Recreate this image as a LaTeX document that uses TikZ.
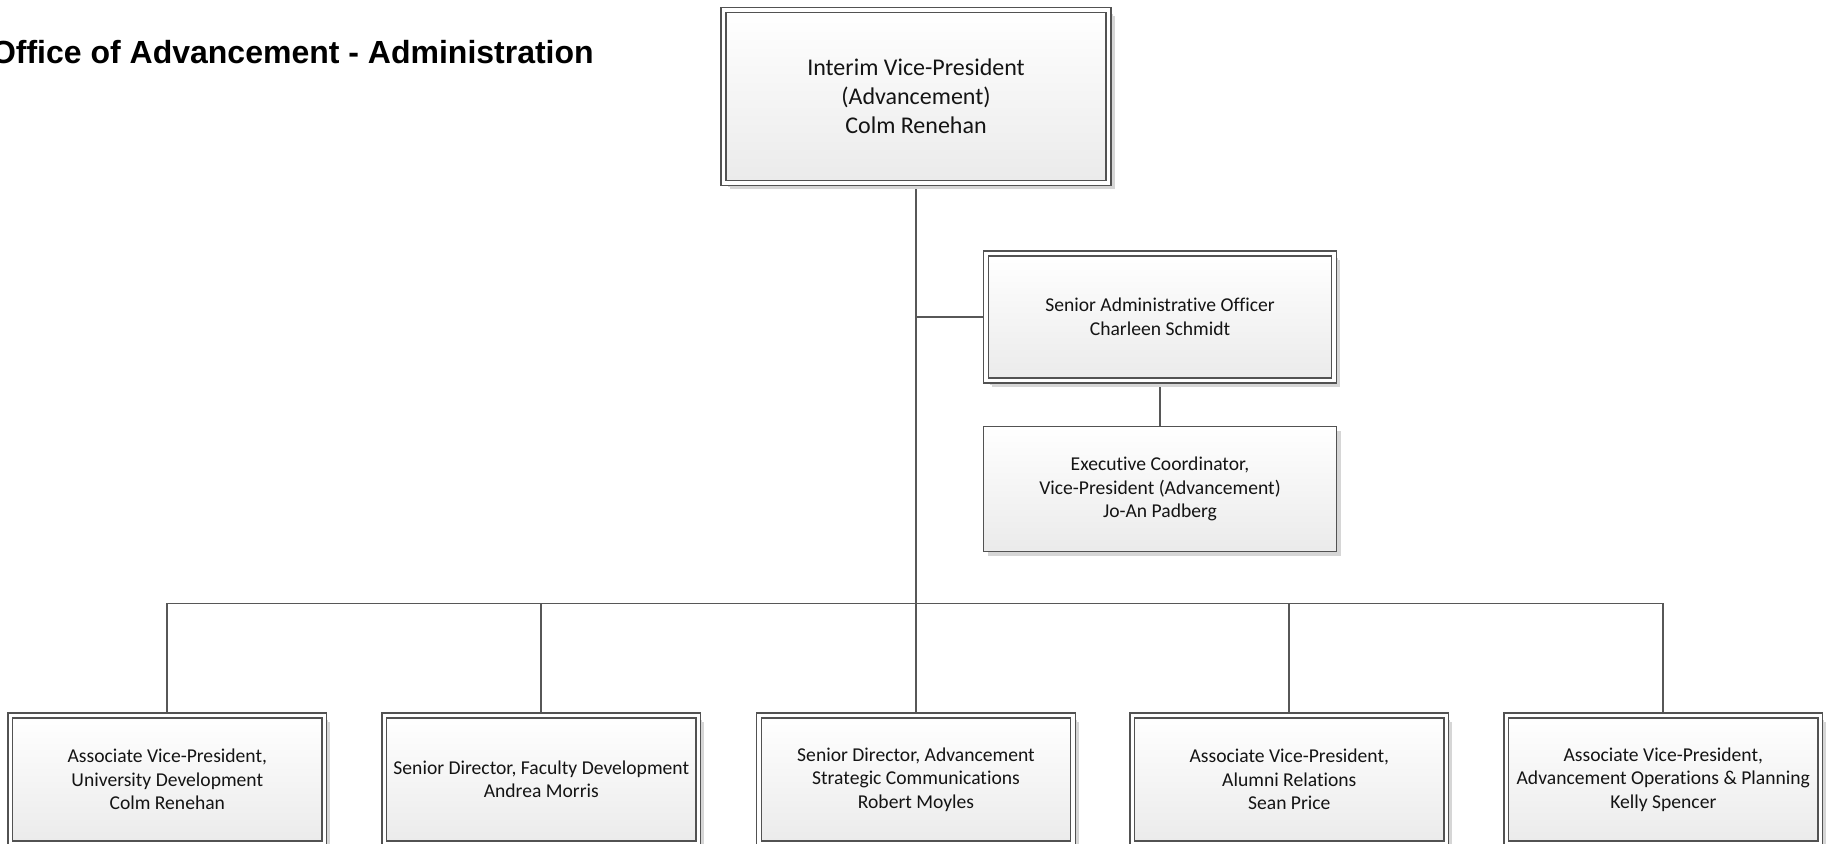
\documentclass[tikz,border=0pt]{standalone}
\usepackage{fontspec}
\usetikzlibrary{shadows,backgrounds}
\newfontfamily\boxfont[Ligatures={NoCommon}]{Carlito}
\newfontfamily\titlefont{Liberation Sans}

\tikzset{
  unit/.style={draw=black!68, line width=1.4bp, shade, top color=white, bottom color=black!8,
    align=center, text=black!92, inner sep=0pt,
    font=\boxfont\fontsize{19.6bp}{23.5bp}\selectfont,
    drop shadow={shadow xshift=4bp, shadow yshift=-4bp, fill=black!16, opacity=1}},
  dbl/.style={unit, double=white, double distance=3.5bp,
    drop shadow={shadow xshift=6bp, shadow yshift=-6bp, fill=black!16, opacity=1}},
  post/.style={dbl, minimum width=314bp, minimum height=128bp},
  link/.style={draw=black!66, line width=1.7bp},
}

\begin{document}
\begin{tikzpicture}[x=1bp, y=-1bp]
        \useasboundingbox (0,0) rectangle (1829,844);
        \node[anchor=base west, font=\titlefont\bfseries\fontsize{32bp}{38bp}\selectfont] (title) at (-12.5,63.5) {Office of Advancement - Administration};
        \node[dbl, minimum width=385bp, minimum height=173bp, font=\boxfont\fontsize{24bp}{29bp}\selectfont] (vp) at (916,96.5) {Interim Vice-President\\(Advancement)\\Colm Renehan};
        \node[dbl, minimum width=348bp, minimum height=127bp] (sao) at (1160,317) {Senior Administrative Officer\\Charleen Schmidt};
        \node[unit, minimum width=353bp, minimum height=125bp] (exec) at (1160,489) {Executive Coordinator,\\Vice-President (Advancement)\\Jo-An Padberg};
        \node[post] (avpud) at (167.3,779.5) {Associate Vice-President,\\University Development\\Colm Renehan};
        \node[post] (sdfd) at (541.3,779.5) {Senior Director, Faculty Development\\Andrea Morris};
        \node[post] (sdasc) at (916,779.5) {Senior Director, Advancement\\Strategic Communications\\Robert Moyles};
        \node[post] (avpar) at (1289.3,779.5) {Associate Vice-President,\\Alumni Relations\\Sean Price};
        \node[post] (avpaop) at (1663.3,779.5) {Associate Vice-President,\\Advancement Operations \& Planning\\Kelly Spencer};
        \coordinate (bus) at (916,603.5);
        \begin{scope}[on background layer]
        \draw[link] (vp) -- (sdasc);
        \draw[link] (sao) -- (sao -| vp);
        \draw[link] (sao) -- (exec);
        \draw[link] (avpud) |- (bus) -| (avpaop);
        \draw[link] (sdfd) -- (sdfd |- bus);
        \draw[link] (avpar) -- (avpar |- bus);
        \end{scope}
    \end{tikzpicture}
\end{document}
